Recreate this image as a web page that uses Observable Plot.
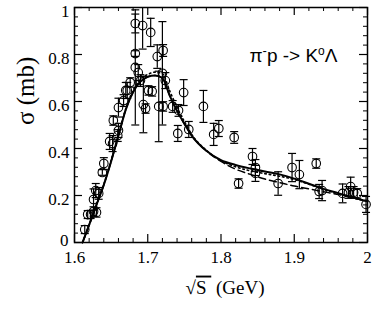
<!DOCTYPE html>
<html><head><meta charset="utf-8">
<script src="https://cdn.jsdelivr.net/npm/d3@7"></script>
<script src="https://cdn.jsdelivr.net/npm/@observablehq/plot@0.6"></script>
<style>body{margin:0;background:#fff} svg{display:block}</style>
</head><body><div id="chart"></div>
<script>
// measured points: sqrt(s) in GeV, sigma in mb, symmetric error in mb
const dataX = [1.614,1.618,1.622,1.626,1.630,1.626,1.629,1.633,1.638,1.640,1.648,1.652,1.659,1.660,1.653,1.660,1.667,1.670,1.672,1.676,1.683,1.683,1.693,1.704,1.683,1.687,1.690,1.694,1.697,1.701,1.706,1.713,1.721,1.715,1.721,1.720,1.724,1.734,1.742,1.749,1.776,1.756,1.741,1.790,1.797,1.818,1.824,1.843,1.847,1.847,1.878,1.897,1.907,1.930,1.934,1.938,1.966,1.974,1.977,1.981,1.986,1.998];
const dataY = [0.055,0.119,0.119,0.132,0.128,0.183,0.221,0.209,0.298,0.336,0.430,0.421,0.455,0.477,0.519,0.574,0.604,0.647,0.647,0.681,0.804,0.932,0.923,0.894,0.745,0.723,0.689,0.587,0.570,0.647,0.643,0.791,0.817,0.579,0.579,0.720,0.689,0.579,0.562,0.638,0.579,0.481,0.464,0.460,0.485,0.447,0.251,0.366,0.319,0.294,0.251,0.319,0.289,0.336,0.217,0.221,0.209,0.213,0.238,0.213,0.209,0.162];
const dataErr = [0.017,0.017,0.017,0.020,0.020,0.045,0.030,0.025,0.012,0.025,0.034,0.034,0.025,0.030,0.020,0.040,0.025,0.034,0.034,0.020,0.012,0.040,0.100,0.060,0.245,0.034,0.025,0.120,0.020,0.020,0.020,0.050,0.025,0.150,0.020,0.220,0.034,0.025,0.025,0.055,0.068,0.034,0.034,0.047,0.034,0.025,0.020,0.034,0.034,0.034,0.050,0.060,0.060,0.020,0.030,0.043,0.040,0.025,0.040,0.025,0.020,0.034];

// model curves
const curveX  = [1.611,1.62,1.63,1.64,1.65,1.66,1.67,1.68,1.69,1.70,1.71,1.72,1.73,1.74,1.75,1.76,1.78,1.80,1.82,1.84,1.86,1.88,1.90,1.92,1.94,1.96,1.98,2.00];
const solidY  = [0.000,0.075,0.160,0.245,0.345,0.455,0.565,0.640,0.685,0.705,0.711,0.700,0.625,0.560,0.505,0.455,0.390,0.350,0.330,0.315,0.302,0.290,0.272,0.250,0.228,0.210,0.192,0.175];
const dashedY = [0.000,0.075,0.160,0.245,0.345,0.455,0.565,0.640,0.685,0.705,0.711,0.700,0.625,0.560,0.505,0.455,0.390,0.345,0.312,0.290,0.270,0.255,0.240,0.228,0.216,0.204,0.190,0.175];
const dottedY = [0.000,0.075,0.162,0.248,0.350,0.460,0.570,0.648,0.695,0.715,0.725,0.718,0.645,0.575,0.515,0.460,0.392,0.348,0.322,0.305,0.293,0.282,0.268,0.248,0.226,0.208,0.190,0.175];

const xTicks = [1.6,1.7,1.8,1.9,2.0];
const xTickLabels = ["1.6","1.7","1.8","1.9","2"];
const xMinor = [1.62,1.64,1.66,1.68,1.72,1.74,1.76,1.78,1.82,1.84,1.86,1.88,1.92,1.94,1.96,1.98];
const yTicks = [0,0.2,0.4,0.6,0.8,1];
const yTickLabels = ["0","0.2","0.4","0.6","0.8","1"];
const yMinor = [0.04,0.08,0.12,0.16,0.24,0.28,0.32,0.36,0.44,0.48,0.52,0.56,0.64,0.68,0.72,0.76,0.84,0.88,0.92,0.96];

const titleText = "π-p -> KoΛ";
const xLabel = "√S (GeV)";
const yLabel = "σ (mb)";

const pts = dataX.map((x,i)=>({x, y:dataY[i], e:dataErr[i]}));
const curves = curveX.map((x,i)=>({x, s:solidY[i], d:dashedY[i], o:dottedY[i]}));
const yLab = yTicks.map((v,i)=>({v, t:yTickLabels[i]}));
const cap = {draw(ctx,size){const w=Math.sqrt(size/Math.PI); ctx.moveTo(-w,0); ctx.lineTo(w,0);}};

const W=376,H=323,mL=74,mR=9,mT=7,mB=81;
const fw=W-mL-mR, fh=H-mT-mB;
const serif = "Liberation Serif";
const sans = "Liberation Sans";

const chart = Plot.plot({
  width:W, height:H, marginLeft:mL, marginRight:mR, marginTop:mT, marginBottom:mB,
  x:{domain:[1.6,2.0], axis:null},
  y:{domain:[0,1], axis:null},
  style:{fontFamily:serif, fontSize:"17px", color:"black", background:"white", overflow:"visible"},
  marks:[
    Plot.line(curves,{x:"x",y:"s",stroke:"black",strokeWidth:2,curve:"monotone-x"}),
    Plot.line(curves,{x:"x",y:"d",stroke:"black",strokeWidth:1.5,strokeDasharray:"7,4",curve:"monotone-x"}),
    Plot.line(curves,{x:"x",y:"o",stroke:"black",strokeWidth:1.6,strokeDasharray:"1.5,3",curve:"monotone-x"}),
    Plot.ruleX(pts,{x:"x",y1:d=>d.y-d.e,y2:d=>d.y+d.e,stroke:"black",strokeWidth:1.2,clip:true}),
    Plot.dot(pts.filter(d=>d.y+d.e<=1),{x:"x",y:d=>d.y+d.e,symbol:cap,r:4,stroke:"black",strokeWidth:1.2}),
    Plot.dot(pts,{x:"x",y:d=>d.y-d.e,symbol:cap,r:4,stroke:"black",strokeWidth:1.2}),
    Plot.dot(pts,{x:"x",y:"y",r:4.3,stroke:"black",fill:"none",strokeWidth:1.1}),
    // ticks (inward)
    Plot.tickX(xTicks,{x:d=>d,insetTop:fh-8,stroke:"black",strokeWidth:1.2}),
    Plot.tickX(xTicks,{x:d=>d,insetBottom:fh-8,stroke:"black",strokeWidth:1.2}),
    Plot.tickX(xMinor,{x:d=>d,insetTop:fh-4,stroke:"black",strokeWidth:1}),
    Plot.tickX(xMinor,{x:d=>d,insetBottom:fh-4,stroke:"black",strokeWidth:1}),
    Plot.tickY(yTicks,{y:d=>d,insetRight:fw-8,stroke:"black",strokeWidth:1.2}),
    Plot.tickY(yTicks,{y:d=>d,insetLeft:fw-8,stroke:"black",strokeWidth:1.2}),
    Plot.tickY(yMinor,{y:d=>d,insetRight:fw-4,stroke:"black",strokeWidth:1}),
    Plot.tickY(yMinor,{y:d=>d,insetLeft:fw-4,stroke:"black",strokeWidth:1}),
    Plot.frame({stroke:"black",strokeWidth:1.5}),
    // tick labels
    Plot.text(xTicks,{x:d=>d,text:(d,i)=>xTickLabels[i],frameAnchor:"bottom",lineAnchor:"top",dy:8,fontSize:17,fontFamily:serif}),
    Plot.text(yLab.filter(d=>d.v>0),{y:"v",text:"t",frameAnchor:"left",textAnchor:"end",dx:-5,dy:4,fontSize:17,fontFamily:serif}),
    Plot.text(yLab.filter(d=>d.v===0),{y:"v",text:"t",frameAnchor:"left",textAnchor:"end",dx:-6,dy:-2,fontSize:17,fontFamily:serif}),
    // axis labels
    Plot.text([yLabel],{frameAnchor:"left",rotate:-90,dx:-49,fontSize:25,fontFamily:serif,text:d=>d}),
    Plot.text([xLabel],{frameAnchor:"bottom",lineAnchor:"middle",dy:45,dx:4,fontSize:19,fontFamily:serif,text:d=>d}),
    Plot.text([titleText],{frameAnchor:"top-right",textAnchor:"end",lineAnchor:"middle",dx:-30,dy:48,fontSize:19,fontFamily:sans,text:d=>d})
  ]
});
document.getElementById("chart").appendChild(chart);

// rich text: superscripts and radical overline
d3.select(chart).selectAll("text").each(function(){
  const t = d3.select(this);
  const s = this.textContent;
  if (s === titleText) {
    t.text(null);
    t.append("tspan").text("π");
    t.append("tspan").attr("baseline-shift","super").attr("font-size","13").text("-");
    t.append("tspan").text("p -> K");
    t.append("tspan").attr("baseline-shift","super").attr("font-size","12").text("o");
    t.append("tspan").text("Λ");
  } else if (s === xLabel) {
    t.text(null);
    t.append("tspan").text("√");
    t.append("tspan").style("text-decoration","overline").text("S ");
    t.append("tspan").text(" (GeV)");
  }
});
</script>
</body></html>
